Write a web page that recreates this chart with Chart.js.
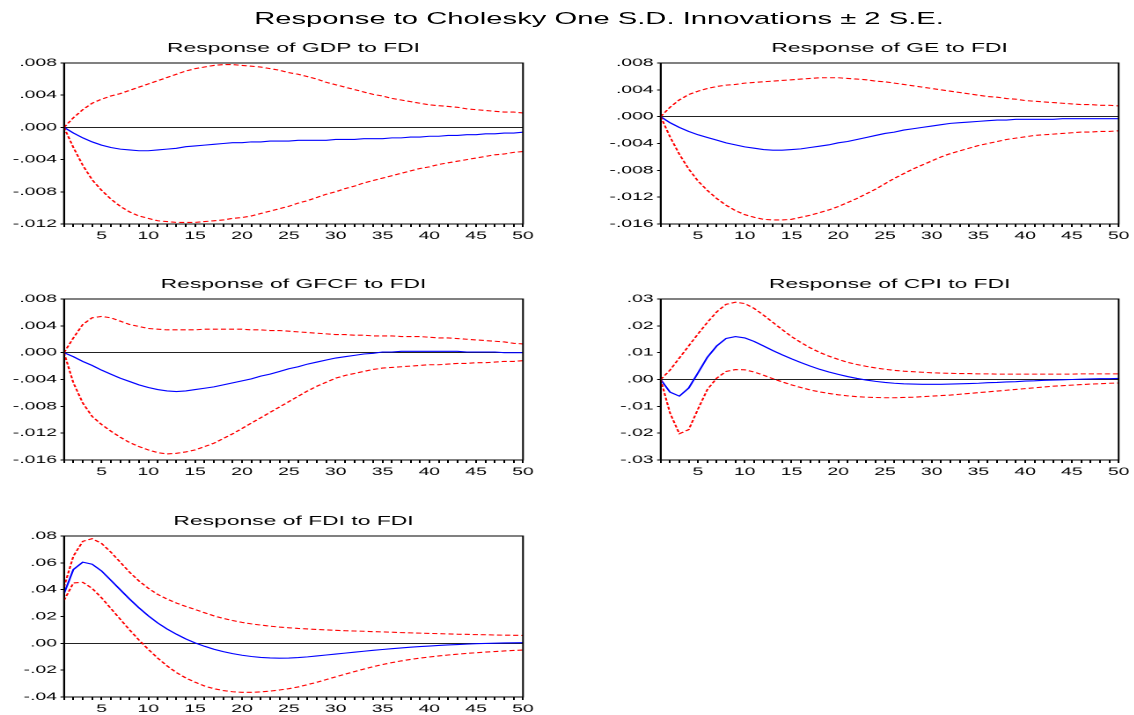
<!DOCTYPE html>
<html><head><meta charset="utf-8">
<script src="https://cdn.jsdelivr.net/npm/chart.js@4.4.1/dist/chart.umd.min.js"></script>
<style>
html,body{margin:0;padding:0;background:#fff;overflow:hidden;width:1134px;height:715px}
#stage{position:absolute;left:0;top:0;height:715px;transform-origin:0 0;}
#title{position:absolute;top:9px;font-family:"Liberation Sans",Arial,sans-serif;font-size:16.6px;line-height:19px;color:#000;white-space:nowrap;text-align:center}
</style></head><body>
<div id="stage"><div id="title">Response to Cholesky One S.D. Innovations ± 2 S.E.</div></div>
<script>
// ---------- DATA ----------
const periods = [1,2,3,4,5,6,7,8,9,10,11,12,13,14,15,16,17,18,19,20,21,22,23,24,25,26,27,28,29,30,31,32,33,34,35,36,37,38,39,40,41,42,43,44,45,46,47,48,49,50];
const xTickLabels = [5,10,15,20,25,30,35,40,45,50];

const gdpResp = [0,-0.0007,-0.0013,-0.0018,-0.0022,-0.0025,-0.0027,-0.0028,-0.0029,-0.0029,
-0.0028,-0.0027,-0.0026,-0.0024,-0.0023,-0.0022,-0.0021,-0.0020,-0.0019,-0.0019,
-0.0018,-0.0018,-0.0017,-0.0017,-0.0017,-0.0016,-0.0016,-0.0016,-0.0016,-0.0015,
-0.0015,-0.0015,-0.0014,-0.0014,-0.0014,-0.0013,-0.0013,-0.0012,-0.0012,-0.0011,
-0.0011,-0.0010,-0.0010,-0.0009,-0.0009,-0.0008,-0.0008,-0.0007,-0.0007,-0.0006];
const gdpUp = [0,0.0012,0.0022,0.0030,0.0035,0.0039,0.0042,0.0046,0.0050,0.0054,
0.0058,0.0062,0.0066,0.0070,0.0073,0.0075,0.0077,0.0078,0.0078,0.0077,
0.0076,0.0075,0.0073,0.0071,0.0068,0.0066,0.0063,0.0060,0.0056,0.0053,
0.0050,0.0047,0.0044,0.0041,0.0039,0.0036,0.0034,0.0032,0.0030,0.0028,
0.0027,0.0026,0.0025,0.0023,0.0022,0.0021,0.0020,0.0019,0.0019,0.0018];
const gdpLo = [0,-0.0025,-0.0047,-0.0065,-0.0078,-0.0089,-0.0098,-0.0105,-0.0110,-0.0113,
-0.0116,-0.0117,-0.0118,-0.0118,-0.0118,-0.0117,-0.0116,-0.0115,-0.0113,-0.0112,
-0.0110,-0.0107,-0.0104,-0.0101,-0.0098,-0.0094,-0.0091,-0.0087,-0.0083,-0.0080,
-0.0076,-0.0073,-0.0069,-0.0066,-0.0063,-0.0060,-0.0057,-0.0054,-0.0051,-0.0049,
-0.0046,-0.0044,-0.0042,-0.0040,-0.0038,-0.0036,-0.0034,-0.0033,-0.0031,-0.0030];

const geResp = [0,-0.0009,-0.0016,-0.0022,-0.0027,-0.0031,-0.0035,-0.0039,-0.0042,-0.0045,
-0.0047,-0.0049,-0.0050,-0.0050,-0.0049,-0.0048,-0.0046,-0.0044,-0.0042,-0.0039,
-0.0037,-0.0034,-0.0031,-0.0028,-0.0025,-0.0023,-0.0020,-0.0018,-0.0016,-0.0014,
-0.0012,-0.0010,-0.0009,-0.0008,-0.0007,-0.0006,-0.0005,-0.0005,-0.0004,-0.0004,
-0.0004,-0.0004,-0.0004,-0.0003,-0.0003,-0.0003,-0.0003,-0.0003,-0.0003,-0.0003];
const geUp = [0,0.0014,0.0025,0.0033,0.0038,0.0042,0.0045,0.0047,0.0048,0.0050,
0.0051,0.0052,0.0053,0.0054,0.0055,0.0056,0.0057,0.0058,0.0058,0.0058,
0.0057,0.0056,0.0055,0.0053,0.0052,0.0050,0.0048,0.0046,0.0044,0.0042,
0.0040,0.0038,0.0036,0.0034,0.0032,0.0030,0.0029,0.0027,0.0026,0.0024,
0.0023,0.0022,0.0021,0.0020,0.0019,0.0018,0.0018,0.0017,0.0017,0.0016];
const geLo = [0,-0.0030,-0.0056,-0.0078,-0.0096,-0.0110,-0.0122,-0.0132,-0.0140,-0.0146,
-0.0150,-0.0153,-0.0154,-0.0154,-0.0153,-0.0150,-0.0147,-0.0143,-0.0139,-0.0134,
-0.0128,-0.0122,-0.0115,-0.0108,-0.0100,-0.0092,-0.0085,-0.0078,-0.0072,-0.0066,
-0.0060,-0.0055,-0.0051,-0.0047,-0.0043,-0.0040,-0.0037,-0.0034,-0.0032,-0.0030,
-0.0028,-0.0027,-0.0026,-0.0025,-0.0024,-0.0023,-0.0023,-0.0022,-0.0022,-0.0021];

const gfcfResp = [0,-0.0006,-0.0013,-0.0019,-0.0026,-0.0032,-0.0038,-0.0043,-0.0048,-0.0052,
-0.0055,-0.0057,-0.0058,-0.0057,-0.0055,-0.0053,-0.0051,-0.0048,-0.0045,-0.0042,
-0.0039,-0.0035,-0.0032,-0.0028,-0.0024,-0.0021,-0.0017,-0.0014,-0.0011,-0.0008,
-0.0006,-0.0004,-0.0002,-0.0001,0.0001,0.0001,0.0002,0.0002,0.0002,0.0002,
0.0002,0.0002,0.0002,0.0001,0.0001,0.0001,0.0001,0.0000,0.0000,0.0000];
const gfcfUp = [0,0.0022,0.0042,0.0052,0.0054,0.0052,0.0047,0.0042,0.0039,0.0036,
0.0035,0.0034,0.0034,0.0034,0.0034,0.0035,0.0035,0.0035,0.0035,0.0035,
0.0034,0.0034,0.0033,0.0033,0.0032,0.0031,0.0030,0.0029,0.0028,0.0027,
0.0027,0.0026,0.0026,0.0025,0.0025,0.0025,0.0024,0.0024,0.0024,0.0023,
0.0022,0.0022,0.0021,0.0020,0.0019,0.0018,0.0017,0.0016,0.0014,0.0013];
const gfcfLo = [0,-0.0045,-0.0075,-0.0095,-0.0107,-0.0117,-0.0126,-0.0134,-0.0140,-0.0145,
-0.0149,-0.0151,-0.0150,-0.0148,-0.0145,-0.0140,-0.0135,-0.0128,-0.0121,-0.0113,
-0.0105,-0.0097,-0.0089,-0.0081,-0.0073,-0.0065,-0.0057,-0.0050,-0.0044,-0.0038,
-0.0034,-0.0031,-0.0028,-0.0025,-0.0023,-0.0022,-0.0021,-0.0020,-0.0019,-0.0018,
-0.0018,-0.0017,-0.0016,-0.0016,-0.0015,-0.0015,-0.0014,-0.0013,-0.0013,-0.0012];

const cpiResp = [0,-0.0047,-0.0062,-0.0032,0.0025,0.0083,0.0125,0.0153,0.0160,0.0155,
0.0142,0.0125,0.0108,0.0092,0.0077,0.0063,0.0050,0.0038,0.0028,0.0019,
0.0011,0.0004,-0.0002,-0.0007,-0.0011,-0.0014,-0.0016,-0.0017,-0.0018,-0.0018,
-0.0018,-0.0017,-0.0016,-0.0015,-0.0014,-0.0012,-0.0011,-0.0009,-0.0008,-0.0006,
-0.0005,-0.0003,-0.0002,-0.0001,0.0000,0.0001,0.0002,0.0003,0.0003,0.0004];
const cpiUp = [0,0.0035,0.0080,0.0125,0.0170,0.0213,0.0252,0.0280,0.0288,0.0283,
0.0265,0.0240,0.0213,0.0186,0.0160,0.0138,0.0118,0.0101,0.0087,0.0075,
0.0064,0.0056,0.0049,0.0043,0.0038,0.0034,0.0031,0.0029,0.0027,0.0025,
0.0024,0.0023,0.0022,0.0022,0.0021,0.0021,0.0020,0.0020,0.0020,0.0020,
0.0020,0.0020,0.0020,0.0020,0.0020,0.0021,0.0021,0.0021,0.0021,0.0021];
const cpiLo = [0,-0.0125,-0.0202,-0.0187,-0.0110,-0.0037,0.0005,0.0030,0.0037,0.0036,
0.0028,0.0016,0.0003,-0.0009,-0.0020,-0.0030,-0.0039,-0.0046,-0.0052,-0.0057,
-0.0061,-0.0064,-0.0066,-0.0067,-0.0068,-0.0068,-0.0067,-0.0066,-0.0064,-0.0062,
-0.0060,-0.0058,-0.0055,-0.0052,-0.0049,-0.0046,-0.0043,-0.0040,-0.0037,-0.0034,
-0.0031,-0.0028,-0.0025,-0.0023,-0.0021,-0.0019,-0.0017,-0.0016,-0.0014,-0.0013];

const fdiResp = [0.0370,0.0550,0.0605,0.0590,0.0540,0.0470,0.0400,0.0330,0.0265,0.0205,
0.0152,0.0107,0.0068,0.0033,0.0003,-0.0022,-0.0044,-0.0062,-0.0077,-0.0089,
-0.0098,-0.0105,-0.0109,-0.0111,-0.0110,-0.0106,-0.0101,-0.0094,-0.0087,-0.0080,
-0.0073,-0.0066,-0.0059,-0.0052,-0.0046,-0.0040,-0.0034,-0.0029,-0.0024,-0.0020,
-0.0016,-0.0012,-0.0009,-0.0006,-0.0003,-0.0001,0.0001,0.0003,0.0004,0.0005];
const fdiUp = [0.0420,0.0650,0.0760,0.0780,0.0745,0.0680,0.0605,0.0530,0.0465,0.0410,
0.0365,0.0330,0.0300,0.0275,0.0252,0.0228,0.0205,0.0186,0.0170,0.0156,
0.0145,0.0136,0.0128,0.0121,0.0116,0.0111,0.0107,0.0103,0.0100,0.0097,
0.0094,0.0092,0.0090,0.0087,0.0085,0.0083,0.0080,0.0078,0.0076,0.0074,
0.0072,0.0070,0.0068,0.0067,0.0065,0.0064,0.0062,0.0061,0.0060,0.0059];
const fdiLo = [0.0320,0.0450,0.0455,0.0410,0.0340,0.0260,0.0180,0.0100,0.0025,-0.0045,
-0.0110,-0.0168,-0.0218,-0.0258,-0.0290,-0.0318,-0.0338,-0.0352,-0.0361,-0.0365,
-0.0365,-0.0362,-0.0356,-0.0348,-0.0338,-0.0325,-0.0308,-0.0290,-0.0270,-0.0250,
-0.0230,-0.0211,-0.0192,-0.0174,-0.0158,-0.0144,-0.0131,-0.0120,-0.0110,-0.0102,
-0.0094,-0.0087,-0.0081,-0.0075,-0.0070,-0.0065,-0.0061,-0.0057,-0.0053,-0.0050];

const panelTitles = ['Response of GDP to FDI','Response of GE to FDI','Response of GFCF to FDI','Response of CPI to FDI','Response of FDI to FDI'];
const yRanges = [[-0.012,0.008,0.004,3],[-0.016,0.008,0.004,3],[-0.016,0.008,0.004,3],[-0.03,0.03,0.01,2],[-0.04,0.08,0.02,2]];
const series = [[gdpResp,gdpUp,gdpLo],[geResp,geUp,geLo],[gfcfResp,gfcfUp,gfcfLo],[cpiResp,cpiUp,cpiLo],[fdiResp,fdiUp,fdiLo]];

// ---------- LAYOUT (real page pixels) ----------
const SX = 1.76;                     // horizontal stretch of the original graphic
const colsReal = [[64,523],[660,1118]];
const rowTops = [63,299,536];
const PLOT_H = 161, TITLE_H = 30, XAXIS_H = 24, YAXIS_REAL = 64, RIGHT_REAL = 16;
const cells = [[0,0],[1,0],[0,1],[1,1],[0,2]];
const FONT = '"Liberation Sans", Arial, sans-serif';

const stage = document.getElementById('stage');
stage.style.width = (1134/SX) + 'px';
stage.style.transform = 'scaleX(' + SX + ')';
const titleEl = document.getElementById('title');
titleEl.style.left = '0px';
titleEl.style.width = (2*599/SX) + 'px';

const framePlugin = {
  id: 'frame',
  afterDraw(chart) {
    const {ctx, chartArea: a} = chart;
    ctx.save();
    ctx.strokeStyle = '#000';
    ctx.lineWidth = 1;
    ctx.strokeRect(a.left, a.top, a.right - a.left, a.bottom - a.top);
    ctx.restore();
  }
};

function fmt(v, dec) {
  const t = Math.abs(v) < 1e-10 ? 0 : v;
  return t.toFixed(dec).replace(/^(-?)0\./, '$1.');
}

panelTitles.forEach((title, i) => {
  const [c, r] = cells[i];
  const [pl, pr] = colsReal[c];
  const pt = rowTops[r];
  const yAxisW = YAXIS_REAL / SX;
  const plotW = (pr - pl) / SX;
  const wInt = Math.ceil(yAxisW + plotW + RIGHT_REAL / SX);
  const padRight = wInt - yAxisW - plotW;
  const h = TITLE_H + PLOT_H + XAXIS_H;
  const cv = document.createElement('canvas');
  cv.width = wInt; cv.height = h;
  cv.style.cssText = 'position:absolute;left:' + ((pl - YAXIS_REAL) / SX) + 'px;top:' + (pt - TITLE_H) + 'px;width:' + wInt + 'px;height:' + h + 'px';
  stage.appendChild(cv);
  const [yMin, yMax, yStep, dec] = yRanges[i];
  const [resp, up, lo] = series[i];
  const toXY = arr => periods.map((p, k) => ({x: p, y: arr[k]}));
  new Chart(cv, {
    type: 'line',
    data: {
      datasets: [
        {data: toXY(up), borderColor: '#ff0000', borderWidth: 1.1, borderDash: [2.9, 1.7], pointRadius: 0, tension: 0, fill: false},
        {data: toXY(lo), borderColor: '#ff0000', borderWidth: 1.1, borderDash: [2.9, 1.7], pointRadius: 0, tension: 0, fill: false},
        {data: toXY(resp), borderColor: '#0000ff', borderWidth: 1.1, pointRadius: 0, tension: 0, fill: false}
      ]
    },
    options: {
      responsive: false, animation: false, devicePixelRatio: 2,
      layout: {padding: {left: 0, right: padRight, top: 0, bottom: 0}},
      plugins: {
        legend: {display: false}, tooltip: {enabled: false},
        title: {display: true, fullSize: false, text: title, color: '#000',
                font: {family: FONT, size: 13, weight: 'normal', lineHeight: 1.2},
                padding: {top: 7.6, bottom: 6.8}}
      },
      scales: {
        x: {
          type: 'linear', min: 1, max: 50,
          afterFit: sc => { sc.height = XAXIS_H; },
          ticks: {stepSize: 1, autoSkip: false, maxRotation: 0, minRotation: 0, color: '#000', padding: 2.5,
                  font: {family: FONT, size: 11},
                  callback: v => (xTickLabels.includes(v) ? String(v) : '')},
          grid: {drawOnChartArea: false, drawTicks: true, tickLength: 3, color: '#000', lineWidth: 1},
          border: {display: true, color: '#000', width: 1}
        },
        y: {
          min: yMin, max: yMax,
          afterFit: sc => { sc.width = yAxisW; },
          ticks: {stepSize: yStep, color: '#000', padding: 2, font: {family: FONT, size: 11},
                  callback: v => fmt(v, dec)},
          grid: {drawOnChartArea: true, drawTicks: true, tickLength: 2, tickColor: '#000', lineWidth: 1,
                 color: ctx => (ctx.tick && Math.abs(ctx.tick.value) < 1e-10 ? '#222' : 'rgba(0,0,0,0)')},
          border: {display: true, color: '#000', width: 1}
        }
      }
    },
    plugins: [framePlugin]
  });
});
</script>
</body></html>
